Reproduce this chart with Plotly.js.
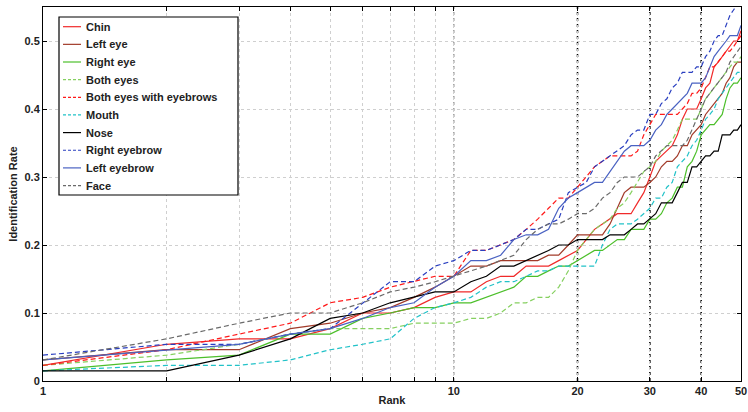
<!DOCTYPE html>
<html>
<head>
<meta charset="utf-8">
<script src="https://cdn.plot.ly/plotly-3.0.1.min.js"></script>
<style>html,body{margin:0;padding:0;background:#fff;}#chart{width:748px;height:412px;}</style>
</head>
<body>
<div id="chart"></div>
<script>
const ranks = [1,2,3,4,5,6,7,8,9,10,11,12,13,14,15,16,17,18,19,20,21,22,23,24,25,26,27,28,29,30,31,32,33,34,35,36,37,38,39,40,41,42,43,44,45,46,47,48,49,50];

const chin = [.023,.054,.062,.062,.077,.100,.100,.108,.123,.131, .131,.146,.154,.154,.169,.169,.169,.177,.185,.192, .208,.223,.231,.238,.246,.246,.246,.262,.277,.300, .323,.331,.338,.346,.362,.385,.400,.400,.400,.415, .431,.438,.462,.469,.477,.485,.492,.500,.500,.515];
const leftEye = [.031,.046,.046,.077,.085,.100,.108,.123,.138,.154, .169,.169,.177,.177,.177,.177,.185,.185,.200,.215, .215,.215,.215,.231,.254,.277,.285,.285,.285,.292, .300,.315,.323,.323,.331,.346,.346,.362,.369,.377, .392,.400,.408,.415,.423,.438,.446,.462,.469,.469];
const rightEye = [.015,.031,.038,.069,.069,.092,.100,.108,.108,.115, .115,.123,.131,.138,.154,.154,.162,.169,.169,.177, .185,.192,.192,.200,.208,.208,.223,.223,.223,.238, .238,.246,.262,.269,.285,.285,.315,.323,.338,.362, .369,.377,.377,.385,.392,.415,.431,.438,.438,.446];
const bothEyes = [.023,.038,.054,.069,.077,.077,.077,.085,.085,.085, .092,.092,.100,.115,.115,.123,.123,.138,.162,.192, .208,.223,.231,.238,.254,.262,.277,.292,.308,.315, .323,.338,.346,.354,.369,.385,.385,.385,.385,.400, .415,.423,.431,.438,.446,.454,.462,.469,.469,.477];
const bothEyesBrows = [.023,.046,.069,.085,.115,.123,.138,.146,.154,.154, .192,.192,.200,.208,.223,.238,.254,.269,.269,.285, .300,.315,.323,.331,.331,.331,.331,.338,.362,.377, .392,.392,.392,.392,.392,.400,.408,.423,.423,.431, .446,.462,.462,.469,.477,.485,.485,.492,.500,.508];
const mouth = [.015,.023,.023,.031,.046,.054,.062,.092,.108,.115, .123,.138,.146,.146,.154,.162,.162,.169,.169,.169, .169,.169,.200,.223,.231,.231,.231,.238,.246,.254, .269,.269,.285,.292,.315,.323,.331,.346,.354,.369, .385,.392,.400,.415,.423,.431,.438,.446,.454,.454];
const nose = [.015,.015,.038,.062,.092,.100,.115,.123,.131,.131, .146,.154,.169,.169,.177,.185,.192,.200,.200,.208, .208,.208,.208,.215,.215,.215,.223,.231,.231,.238, .246,.262,.262,.262,.277,.292,.292,.315,.315,.323, .331,.331,.338,.338,.362,.362,.362,.369,.369,.377];
const rightBrow = [.038,.054,.054,.069,.077,.115,.146,.146,.169,.177, .192,.192,.200,.208,.223,.223,.231,.238,.277,.285, .292,.315,.323,.331,.338,.346,.362,.369,.369,.392, .392,.408,.415,.431,.438,.454,.454,.454,.462,.462, .477,.485,.500,.508,.508,.523,.538,.546,.554,.562];
const leftBrow = [.031,.046,.054,.069,.077,.092,.108,.115,.138,.154, .177,.177,.185,.208,.215,.215,.223,.254,.269,.277, .285,.292,.292,.308,.323,.338,.346,.346,.346,.354, .369,.377,.392,.400,.408,.415,.423,.438,.438,.438, .446,.462,.477,.485,.492,.500,.508,.508,.508,.523];
const face = [.031,.062,.085,.100,.100,.115,.131,.138,.146,.154, .162,.169,.177,.185,.208,.223,.231,.231,.238,.246, .246,.254,.269,.277,.292,.300,.300,.300,.308,.315, .331,.338,.346,.346,.346,.346,.354,.369,.385,.400, .415,.423,.431,.438,.446,.454,.469,.477,.485,.492];

const seriesNames = ['Chin','Left eye','Right eye','Both eyes','Both eyes with eyebrows','Mouth','Nose','Right eyebrow','Left eyebrow','Face'];
const seriesData = [chin,leftEye,rightEye,bothEyes,bothEyesBrows,mouth,nose,rightBrow,leftBrow,face];
const seriesColors = ['#f02a2a','#a23b2a','#4cbf2a','#86d060','#ff1a1a','#22c2c8','#000000','#2a3fc0','#4a62c2','#6a6a6a'];
const seriesDash = ['solid','solid','solid','5px,3px','5px,3px','5px,3px','solid','5px,3px','solid','5px,3px'];

const xTickVals = [1,2,3,4,5,6,7,8,9,10,20,30,40,50];
const xTickText = ['1','','','','','','','','','10','20','30','40','50'];
const yTickVals = [0,0.1,0.2,0.3,0.4,0.5];
const yTickText = ['0','0.1','0.2','0.3','0.4','0.5'];
const darkGrid = [20,30,40];
const midGrid = [10];

const traces = seriesNames.map((n,i)=>({
  x: ranks, y: seriesData[i], name: n, type:'scatter', mode:'lines',
  line:{color:seriesColors[i], width:1.2, dash:seriesDash[i]}, showlegend:false
}));

// plot area in pixels (for placing the legend box in paper coordinates)
const PL = 43, PR = 741, PT = 7, PB = 381;
const px2x = p => (p - PL) / (PR - PL);
const px2y = p => (PB - p) / (PB - PT);

const shapes = [];
darkGrid.forEach(v=>shapes.push({type:'line', xref:'x', yref:'paper', x0:v, x1:v, y0:0, y1:1, layer:'below', line:{color:'#000', width:1.5, dash:'dot'}}));
midGrid.forEach(v=>shapes.push({type:'line', xref:'x', yref:'paper', x0:v, x1:v, y0:0, y1:1, layer:'below', line:{color:'#8a8a8a', width:1.2, dash:'dot'}}));

const legFont = {family:'Liberation Sans, Arial, sans-serif', size:11, color:'#222', weight:'bold'};
const annotations = [];
// legend box
shapes.push({type:'rect', xref:'paper', yref:'paper', x0:px2x(59), x1:px2x(238), y0:px2y(195), y1:px2y(17), fillcolor:'#fff', line:{color:'#000', width:1.2}, layer:'above'});
seriesNames.forEach((n,i)=>{
  const cy = 26.7 + i*17.65;
  shapes.push({type:'line', xref:'paper', yref:'paper', x0:px2x(63), x1:px2x(81), y0:px2y(cy), y1:px2y(cy), layer:'above',
    line:{color:seriesColors[i], width:1.2, dash: seriesDash[i]==='solid' ? 'solid' : '3px,2px'}});
  annotations.push({xref:'paper', yref:'paper', x:px2x(83.5), y:px2y(cy), text:n, showarrow:false, xanchor:'left', yanchor:'middle', font:legFont});
});

const tickFont = {family:'Liberation Sans, Arial, sans-serif', size:11, color:'#222', weight:'bold'};

const layout = {
  width:748, height:412,
  margin:{l:43, r:7, t:7, b:31},
  paper_bgcolor:'#fff', plot_bgcolor:'#fff',
  showlegend:false,
  xaxis:{type:'log', range:[0, Math.log10(50)], tickvals:xTickVals, ticktext:xTickText, ticks:'inside', ticklen:4, tickcolor:'#000',
    showline:true, linecolor:'#000', linewidth:1, mirror:'ticks', showgrid:true, gridcolor:'#cfcfcf', griddash:'dot', gridwidth:1,
    zeroline:false, tickfont:tickFont, title:{text:'Rank', font:tickFont, standoff:0}, automargin:false},
  yaxis:{range:[0,0.55], tickvals:yTickVals, ticktext:yTickText, ticks:'inside', ticklen:4, tickcolor:'#000',
    showline:true, linecolor:'#000', linewidth:1, mirror:'ticks', showgrid:true, gridcolor:'#cfcfcf', griddash:'dot', gridwidth:1,
    zeroline:false, tickfont:tickFont, title:{text:'Identification Rate', font:tickFont, standoff:4}, automargin:false},
  shapes: shapes,
  annotations: annotations
};

Plotly.newPlot('chart', traces, layout, {displayModeBar:false, staticPlot:true});
</script>
</body>
</html>
